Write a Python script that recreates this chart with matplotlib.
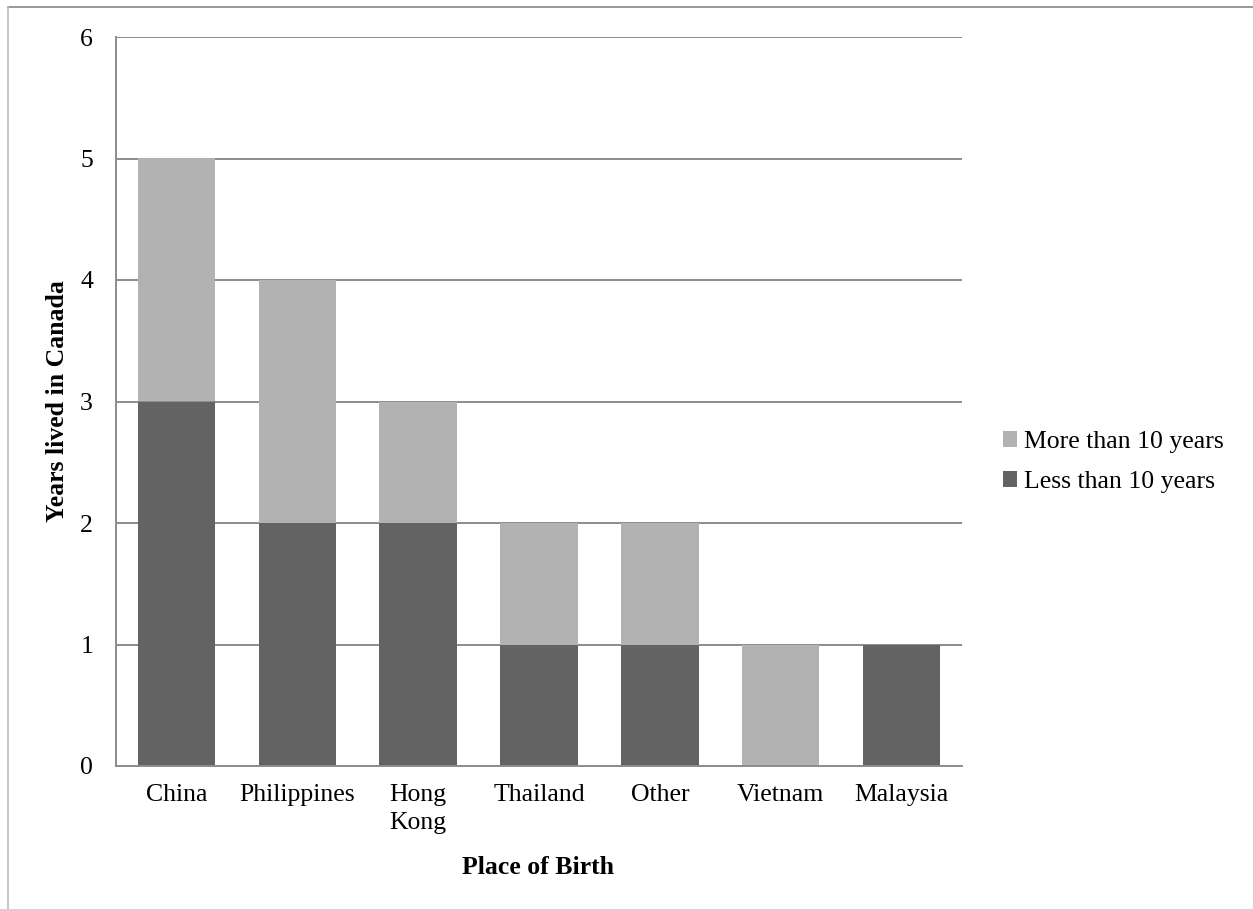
import matplotlib.pyplot as plt
import numpy as np
from matplotlib.lines import Line2D

countries = ["China", "Philippines", "Hong\nKong", "Thailand", "Other", "Vietnam", "Malaysia"]
less_than_10 = [3, 2, 2, 1, 1, 0, 1]
more_than_10 = [2, 2, 1, 1, 1, 1, 0]

plt.rcParams["font.family"] = ["Liberation Serif", "DejaVu Serif"]
FS = 18.5

W, H = 1253, 909
fig = plt.figure(figsize=(W / 100, H / 100), dpi=100)
ax = fig.add_axes([116 / W, 1 - 766 / H, (962 - 116) / W, (766 - 37) / H])

x = np.arange(len(countries))
width = 0.64
grid_col = "#8c8c8c"
dark = "#636363"
light = "#b2b2b2"

for y in range(1, 7):
    ax.axhline(y, color=grid_col, linewidth=1.4, zorder=1)

b_less = ax.bar(x, less_than_10, width, color=dark, label="Less than 10 years", zorder=2)
b_more = ax.bar(x, more_than_10, width, bottom=less_than_10, color=light,
                label="More than 10 years", zorder=2)

ax.set_xlim(-0.5, len(countries) - 0.5)
ax.set_ylim(0, 6)
ax.set_yticks(range(0, 7))
ax.set_xticks(x)
ax.set_xticklabels(countries, fontsize=FS, linespacing=1.35, va="top")
ax.tick_params(axis="y", length=0, pad=16.5, labelsize=FS)
ax.tick_params(axis="x", length=0, pad=13)

for side in ["top", "right"]:
    ax.spines[side].set_visible(False)
for side in ["left", "bottom"]:
    ax.spines[side].set_color(grid_col)
    ax.spines[side].set_linewidth(1.4)

ax.set_ylabel("Years lived in Canada", fontsize=FS, fontweight="bold")
ax.yaxis.set_label_coords((58 - 116) / (962 - 116), 0.5)
ax.yaxis.label.set_va("center")
fig.text(538 / W, 1 - 867 / H, "Place of Birth", fontsize=FS, fontweight="bold",
         ha="center", va="center")

ax.legend(handles=[b_more, b_less], loc="center left", bbox_to_anchor=(980 / W, 1 - 462 / H),
          bbox_transform=fig.transFigure, frameon=False, fontsize=FS,
          handlelength=0.55, handleheight=0.55, handletextpad=0.25, labelspacing=0.7)

# outer frame (top and left edges only)
fig.add_artist(Line2D([8 / W, 1], [1 - 7 / H, 1 - 7 / H], transform=fig.transFigure,
                      color="#888888", linewidth=1.2))
fig.add_artist(Line2D([8 / W, 8 / W], [1 - 7 / H, 0], transform=fig.transFigure,
                      color="#bbbbbb", linewidth=1.2))

fig.savefig("out.png", dpi=100)
